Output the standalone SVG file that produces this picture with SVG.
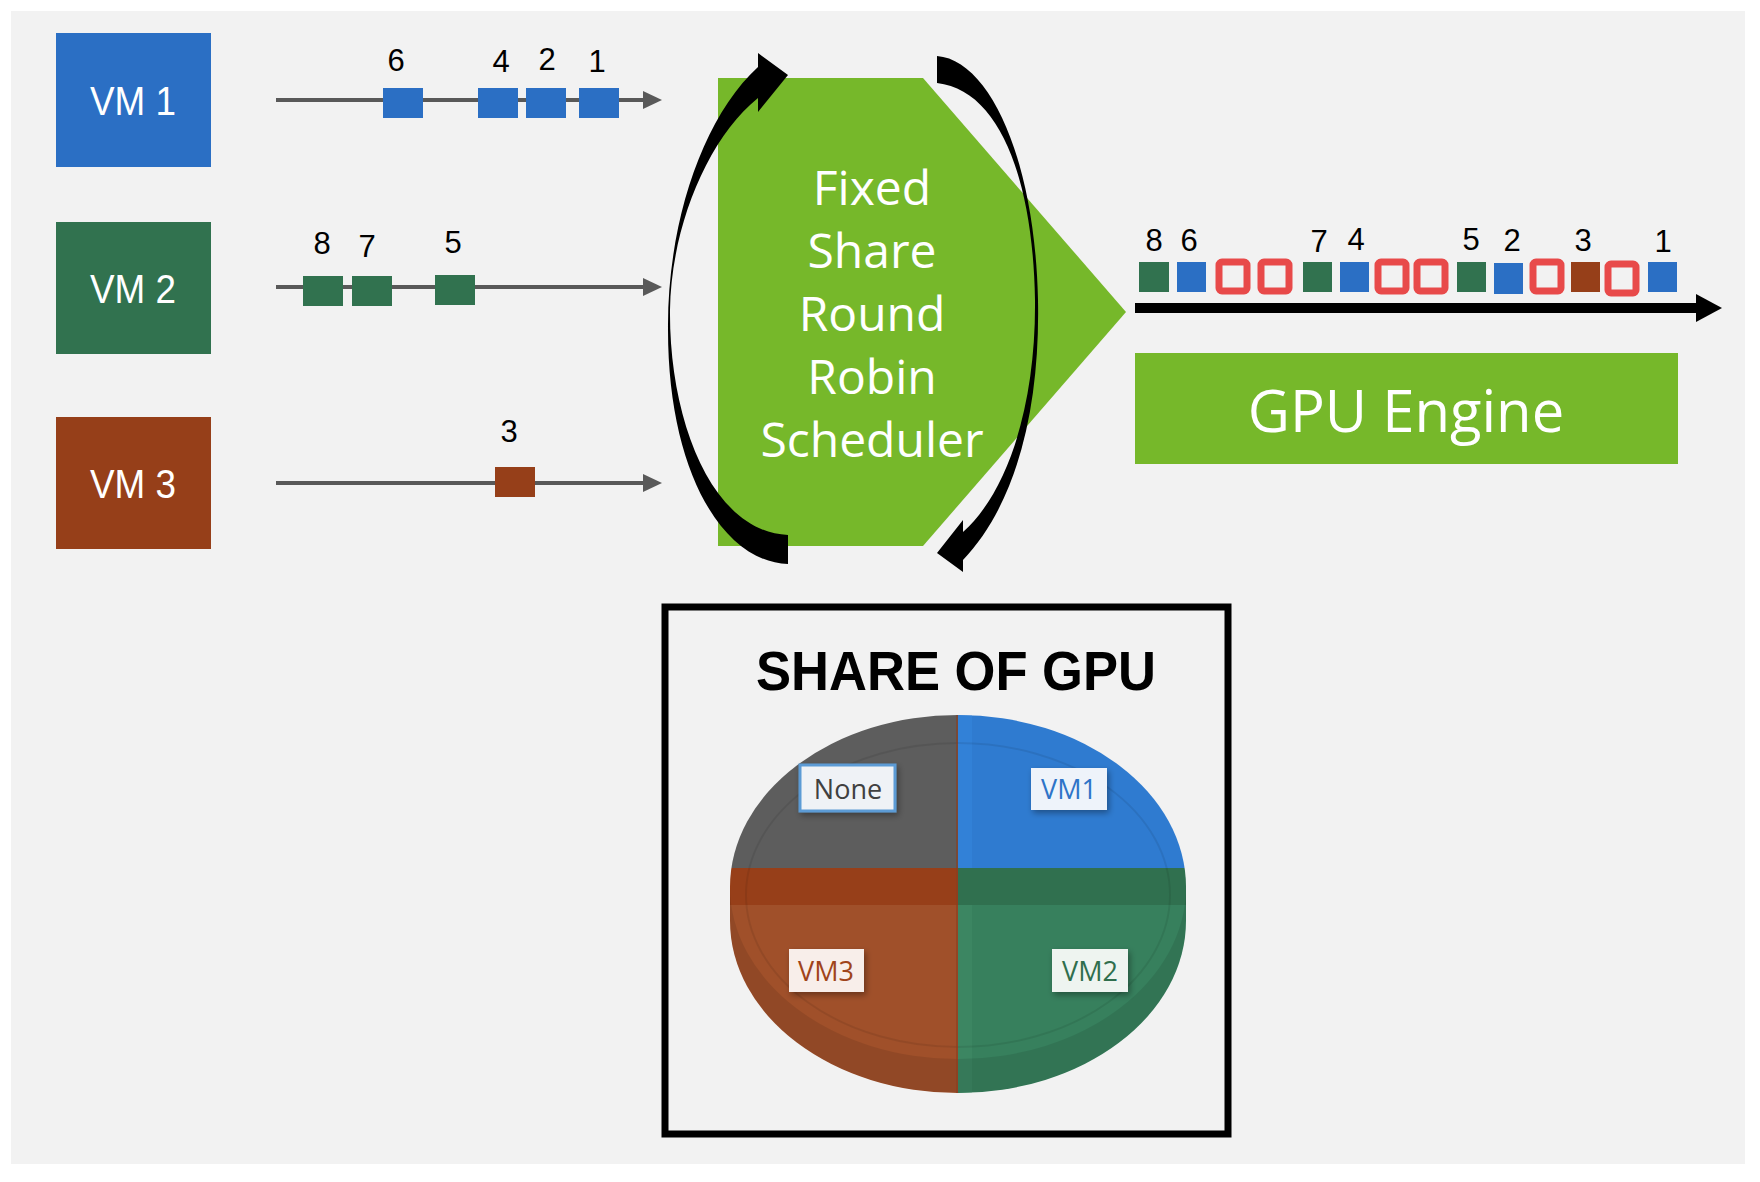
<svg xmlns="http://www.w3.org/2000/svg" width="1760" height="1182" viewBox="0 0 1760 1182">
<defs>
<style>
.vmbox text{font-family:"Liberation Sans",Arial,sans-serif;font-size:41px;fill:#fff;text-anchor:middle}
.num{font-family:"Liberation Sans",Arial,sans-serif;font-size:31px;fill:#000;text-anchor:middle}
.inline{stroke:#595959;stroke-width:4;fill:none}
.inhead{fill:#595959}
.blue{fill:#2b6fc4}
.green{fill:#31724f}
.brown{fill:#963f19}
.idle{fill:#f2f2f2;stroke:#e84a4a;stroke-width:7}
.sched{font-family:"Open Sans","Liberation Sans",sans-serif;font-size:48px;fill:#fff;text-anchor:middle}
.lbl{font-family:"Open Sans","Liberation Sans",sans-serif;font-size:27px;text-anchor:middle}
</style>
<clipPath id="pieClip">
<ellipse cx="958" cy="887" rx="228" ry="172"/>
<rect x="730" y="887" width="456" height="34"/>
<ellipse cx="958" cy="921" rx="228" ry="172"/>
</clipPath>
<filter id="sh" x="-20%" y="-20%" width="150%" height="160%">
<feDropShadow dx="2" dy="3" stdDeviation="3" flood-color="#000" flood-opacity="0.35"/>
</filter>
</defs>
<rect x="0" y="0" width="1760" height="1182" fill="#ffffff"/>
<rect x="11" y="11" width="1734" height="1153" fill="#f2f2f2"/>

<g id="vm1" class="vmbox">
<rect x="56" y="33" width="155" height="134" fill="#2b6fc4"/>
<text x="133" y="115" textLength="86" lengthAdjust="spacingAndGlyphs">VM 1</text>
</g>
<g id="vm2" class="vmbox">
<rect x="56" y="222" width="155" height="132" fill="#31724f"/>
<text x="133" y="303" textLength="86" lengthAdjust="spacingAndGlyphs">VM 2</text>
</g>
<g id="vm3" class="vmbox">
<rect x="56" y="417" width="155" height="132" fill="#963f19"/>
<text x="133" y="498" textLength="86" lengthAdjust="spacingAndGlyphs">VM 3</text>
</g>

<g id="connectors">
<line class="inline" x1="276" y1="100" x2="646" y2="100"/>
<polygon class="inhead" points="643,91 662,100 643,109"/>
<line class="inline" x1="276" y1="287" x2="646" y2="287"/>
<polygon class="inhead" points="643,278 662,287 643,296"/>
<line class="inline" x1="276" y1="483" x2="646" y2="483"/>
<polygon class="inhead" points="643,474 662,483 643,492"/>
</g>

<g id="vm1-queue">
<rect class="blue" x="383" y="88" width="40" height="30"/>
<rect class="blue" x="478" y="88" width="40" height="30"/>
<rect class="blue" x="526" y="88" width="40" height="30"/>
<rect class="blue" x="579" y="88" width="40" height="30"/>
<text class="num" x="396" y="71">6</text>
<text class="num" x="501" y="72">4</text>
<text class="num" x="547" y="70">2</text>
<text class="num" x="597" y="72">1</text>
</g>
<g id="vm2-queue">
<rect class="green" x="303" y="276" width="40" height="30"/>
<rect class="green" x="352" y="276" width="40" height="30"/>
<rect class="green" x="435" y="275" width="40" height="30"/>
<text class="num" x="322" y="254">8</text>
<text class="num" x="367" y="257">7</text>
<text class="num" x="453" y="253">5</text>
</g>
<g id="vm3-queue">
<rect class="brown" x="495" y="467" width="40" height="30"/>
<text class="num" x="509" y="442">3</text>
</g>

<g id="scheduler">
<polygon points="718,78 923,78 1126,312 923,546 718,546" fill="#76b82a"/>
<text class="sched" x="872" y="205">Fixed</text>
<text class="sched" x="872" y="268">Share</text>
<text class="sched" x="872" y="331">Round</text>
<text class="sched" x="872" y="394">Robin</text>
<text class="sched" x="872" y="457">Scheduler</text>
</g>

<g id="cycle-arrows">
<path d="M 788,564 C 722,562 668,470 668,330 C 667,225 702,118 758,67 L 758,53 L 788,75 L 758,112 L 758,98 C 706,140 671,230 670,310 C 669,420 712,532 788,535 Z" fill="#000"/>
<path d="M 937,56 C 990,60 1035,160 1038,300 C 1040,400 1020,500 963,560 L 963,572 L 937,553 L 963,520 L 963,532 C 1010,490 1036,400 1035,300 C 1033,180 1000,90 937,83 Z" fill="#000"/>
</g>

<g id="timeline">
<line x1="1135" y1="308" x2="1700" y2="308" stroke="#000" stroke-width="10"/>
<polygon points="1696,294 1722,308 1696,322" fill="#000"/>
<rect class="green" x="1139" y="262" width="30" height="30"/>
<rect class="blue" x="1177" y="262" width="29" height="30"/>
<rect class="idle" x="1219" y="262" width="28" height="29" rx="3"/>
<rect class="idle" x="1261" y="262" width="28" height="29" rx="3"/>
<rect class="green" x="1303" y="262" width="29" height="30"/>
<rect class="blue" x="1340" y="262" width="29" height="30"/>
<rect class="idle" x="1378" y="262" width="28" height="29" rx="3"/>
<rect class="idle" x="1417" y="262" width="28" height="29" rx="3"/>
<rect class="green" x="1457" y="262" width="29" height="30"/>
<rect class="blue" x="1494" y="263" width="29" height="31"/>
<rect class="idle" x="1533" y="262" width="28" height="29" rx="3"/>
<rect class="brown" x="1571" y="262" width="29" height="30"/>
<rect class="idle" x="1608" y="264" width="28" height="29" rx="3"/>
<rect class="blue" x="1648" y="262" width="29" height="30"/>
<text class="num" x="1154" y="251">8</text>
<text class="num" x="1189" y="251">6</text>
<text class="num" x="1319" y="252">7</text>
<text class="num" x="1356" y="250">4</text>
<text class="num" x="1471" y="250">5</text>
<text class="num" x="1512" y="251">2</text>
<text class="num" x="1583" y="251">3</text>
<text class="num" x="1663" y="252">1</text>
</g>

<g id="gpu-engine">
<rect x="1135" y="353" width="543" height="111" fill="#76b82a"/>
<text x="1406" y="432" font-family="'Open Sans','Liberation Sans',sans-serif" font-size="58" fill="#fff" text-anchor="middle">GPU Engine</text>
</g>

<g id="share-of-gpu">
<rect x="665" y="607" width="563" height="527" fill="none" stroke="#000" stroke-width="7"/>
<text x="956" y="690" font-family="'Liberation Sans',Arial,sans-serif" font-weight="bold" font-size="56" fill="#000" text-anchor="middle" textLength="400" lengthAdjust="spacingAndGlyphs">SHARE OF GPU</text>
<g clip-path="url(#pieClip)">
<rect x="725" y="700" width="233" height="168" fill="#5d5d5d"/>
<rect x="958" y="700" width="235" height="168" fill="#2f7bd0"/>
<rect x="725" y="868" width="233" height="37" fill="#973f19"/>
<rect x="958" y="868" width="235" height="37" fill="#30704f"/>
<rect x="725" y="905" width="233" height="200" fill="#a0502a"/>
<rect x="958" y="905" width="235" height="200" fill="#37805d"/>
<rect x="958" y="700" width="14" height="168" fill="#3585dc" opacity="0.6"/>
<rect x="958" y="905" width="14" height="200" fill="#3f8a66" opacity="0.6"/>
<path d="M 730,887 A 228 172 0 0 0 1186,887 L 1186,921 A 228 172 0 0 1 730,921 Z" fill="#000" opacity="0.09"/>
<ellipse cx="958" cy="895" rx="212" ry="152" fill="none" stroke="#000" stroke-opacity="0.08" stroke-width="2"/>
<line x1="957" y1="700" x2="957" y2="1100" stroke="#8a3f20" stroke-width="2" opacity="0.6"/>
</g>
<g id="label-none" filter="url(#sh)">
<rect x="800" y="765" width="95" height="46" fill="#eff2f6" stroke="#5b9bd5" stroke-width="3"/>
</g>
<text class="lbl" x="848" y="799" fill="#404040">None</text>
<g id="label-vm1" filter="url(#sh)">
<rect x="1031" y="768" width="76" height="42" fill="#eef3fa"/>
</g>
<text class="lbl" x="1069" y="799" fill="#2e74c8">VM1</text>
<g id="label-vm3" filter="url(#sh)">
<rect x="789" y="949" width="75" height="43" fill="#f8eeea"/>
</g>
<text class="lbl" x="826" y="981" fill="#a0441a">VM3</text>
<g id="label-vm2" filter="url(#sh)">
<rect x="1052" y="949" width="76" height="43" fill="#eef4f0"/>
</g>
<text class="lbl" x="1090" y="981" fill="#2f6e4d">VM2</text>
</g>
</svg>
